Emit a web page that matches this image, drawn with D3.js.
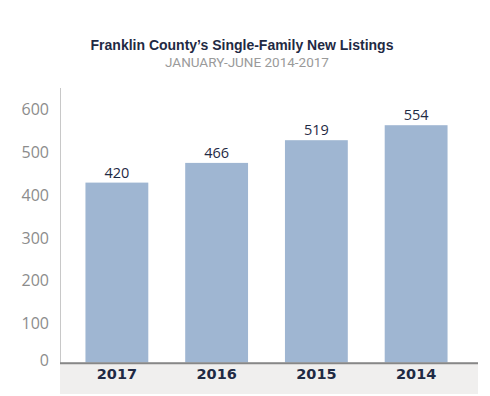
<!DOCTYPE html>
<html><head><meta charset="utf-8">
<script src="https://cdn.jsdelivr.net/npm/d3@7"></script>
<style>body{margin:0;background:#fff}svg{display:block}</style>
</head><body>
<svg id="chart" width="490" height="396"></svg>
<script>
const title = "Franklin County’s Single-Family New Listings";
const subtitle = "JANUARY-JUNE 2014-2017";
const years = ["2017", "2016", "2015", "2014"];
const listings = [420, 466, 519, 554];
const yTicks = [0, 100, 200, 300, 400, 500, 600];

const svg = d3.select("#chart");
const navy = "#1f2a44";

const x = d3.scaleBand().domain(years).range([67, 466]).paddingInner(0.37).paddingOuter(0.185);
const y = d3.scaleLinear().domain([0, 600]).range([362.5, 105.5]);

// title
svg.append("text").attr("x", 242).attr("y", 50).attr("text-anchor", "middle")
  .attr("font-family", "Liberation Sans").attr("font-weight", "bold").attr("font-size", 14)
  .attr("fill", navy).text(title);
svg.append("text").attr("x", 247).attr("y", 67).attr("text-anchor", "middle")
  .attr("font-family", "Roboto").attr("font-size", 13.5).attr("fill", "#9a9a9a").text(subtitle);

// x category band
svg.append("rect").attr("x", 60).attr("y", 362).attr("width", 418).attr("height", 32).attr("fill", "#f0efee");

// y axis line
svg.append("line").attr("x1", 60.5).attr("x2", 60.5).attr("y1", 88).attr("y2", 363).attr("stroke", "#c8c8c8").attr("stroke-width", 1);

// y axis labels
const yAxis = d3.axisLeft(y).tickValues(yTicks).tickSize(0).tickPadding(0);
const ga = svg.append("g").attr("transform", "translate(49,4)").call(yAxis);
ga.select(".domain").remove();
ga.selectAll("text").attr("font-family", "Open Sans").attr("font-size", 16).attr("fill", "#8c8c8c");
ga.selectAll(".tick").filter(d => d === 0).select("text").attr("dy", "-0.05em");

// bars
svg.append("g").selectAll("rect").data(years).join("rect")
  .attr("x", d => x(d)).attr("width", x.bandwidth())
  .attr("y", (d, i) => y(listings[i])).attr("height", (d, i) => y(0) - y(listings[i]))
  .attr("fill", "#9fb6d2");

// value labels
svg.append("g").selectAll("text").data(years).join("text")
  .attr("x", d => x(d) + x.bandwidth() / 2).attr("y", (d, i) => y(listings[i]) - 5)
  .attr("text-anchor", "middle").attr("font-family", "Open Sans").attr("font-size", 14.5)
  .attr("fill", navy).text((d, i) => listings[i]);

// baseline
svg.append("line").attr("x1", 60).attr("x2", 478).attr("y1", 363.3).attr("y2", 363.3).attr("stroke", "#878787").attr("stroke-width", 2);

// x axis labels
const xAxis = d3.axisBottom(x).tickSize(0).tickPadding(0);
const gx = svg.append("g").attr("transform", "translate(0,369)").call(xAxis);
gx.select(".domain").remove();
gx.selectAll("text").attr("font-family", "DejaVu Sans").attr("font-weight", "bold").attr("font-size", 14.5).attr("fill", navy);
</script>
</body></html>
